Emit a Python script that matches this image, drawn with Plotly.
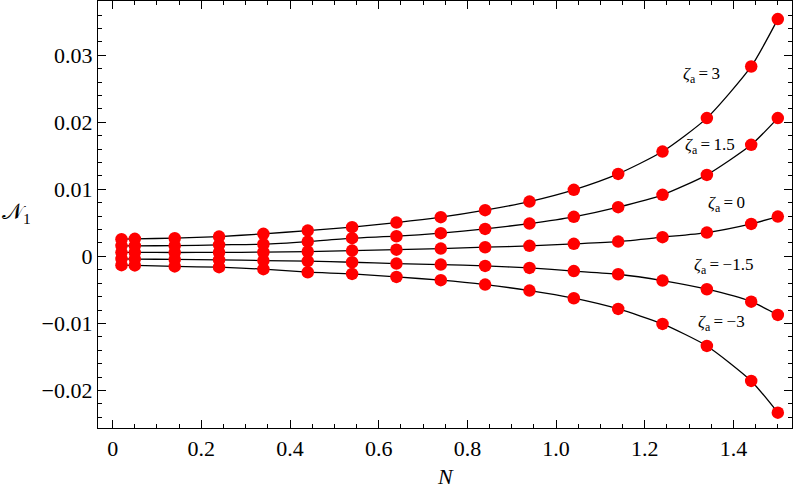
import plotly.graph_objects as go

# N values where the points sit
n_vals = [0.02, 0.05, 0.14, 0.24, 0.34, 0.44, 0.54, 0.64, 0.74, 0.84,
          0.94, 1.04, 1.14, 1.24, 1.34, 1.44, 1.50]

# N1 for each zeta_a
zeta_3 = [0.00257, 0.00262, 0.00272, 0.00296, 0.00336, 0.00385, 0.00436, 0.00504, 0.00585,
          0.00690, 0.00818, 0.00993, 0.01231, 0.01564, 0.02063, 0.02833, 0.03540]
zeta_15 = [0.00157, 0.00158, 0.00160, 0.00172, 0.00182, 0.00221, 0.00272, 0.00301, 0.00346,
           0.00410, 0.00490, 0.00590, 0.00734, 0.00918, 0.01216, 0.01664, 0.02063]
zeta_0 = [0.00060, 0.00060, 0.00058, 0.00060, 0.00063, 0.00072, 0.00087, 0.00101, 0.00116,
          0.00137, 0.00157, 0.00187, 0.00221, 0.00287, 0.00355, 0.00485, 0.00594]
zeta_m15 = [-0.00037, -0.00040, -0.00045, -0.00052, -0.00062, -0.00070, -0.00087, -0.00107, -0.00122,
            -0.00142, -0.00172, -0.00219, -0.00266, -0.00361, -0.00490, -0.00675, -0.00873]
zeta_m3 = [-0.00131, -0.00135, -0.00150, -0.00161, -0.00190, -0.00236, -0.00261, -0.00306, -0.00355,
           -0.00421, -0.00510, -0.00624, -0.00784, -0.01007, -0.01336, -0.01858, -0.02331]

series = [zeta_3, zeta_15, zeta_0, zeta_m15, zeta_m3]

# curve labels and where they sit
label_text = ["3", "1.5", "0", "\u22121.5", "\u22123"]
label_x = [1.329, 1.347, 1.385, 1.378, 1.374]
label_y = [0.0271, 0.0164, 0.0078, -0.0015, -0.0100]

x_ticks = [0, 0.2, 0.4, 0.6, 0.8, 1.0, 1.2, 1.4]
x_ticktext = ["0", "0.2", "0.4", "0.6", "0.8", "1.0", "1.2", "1.4"]
y_ticks = [-0.02, -0.01, 0, 0.01, 0.02, 0.03]
y_ticktext = ["\u22120.02", "\u22120.01", "0", "0.01", "0.02", "0.03"]

serif = "Liberation Serif"

W, H = 793, 492
ML, MR, MT, MB = 98, 1, 1, 64
plot_w = W - ML - MR
plot_h = H - MT - MB

fig = go.Figure()

# lines first so the dots sit on top
for ys in series:
    fig.add_trace(go.Scatter(x=n_vals, y=ys, mode="lines",
                             line=dict(color="black", width=1.3, shape="spline", smoothing=0.6),
                             hoverinfo="skip", showlegend=False))
for ys in series:
    fig.add_trace(go.Scatter(x=n_vals, y=ys, mode="markers",
                             marker=dict(color="#ff0000", size=12.5, line=dict(width=0)),
                             showlegend=False))

for t, lx, ly in zip(label_text, label_x, label_y):
    fig.add_annotation(x=lx, y=ly, xref="x", yref="y", showarrow=False,
                       xanchor="center", yanchor="middle",
                       text="<i>\u03b6</i><sub>a</sub>\u2009=\u2009" + t,
                       font=dict(family=serif, size=17, color="black"))

# axis titles, placed by pixel position in the page
fig.add_annotation(xref="paper", yref="paper", showarrow=False,
                   x=(445 - ML) / plot_w, y=-(477 - (H - MB)) / plot_h,
                   xanchor="center", yanchor="middle",
                   text="<i>N</i>", font=dict(family=serif, size=22, color="black"))
fig.add_annotation(xref="paper", yref="paper", showarrow=False,
                   x=(16 - ML) / plot_w, y=((H - MB) - 213) / plot_h,
                   xanchor="center", yanchor="middle",
                   text="\U0001d4a9<sub>1</sub>", font=dict(family=serif, size=22, color="black"))

axis_common = dict(showgrid=False, zeroline=False, showline=True, linecolor="black",
                   linewidth=1.2, mirror="ticks", ticks="inside", ticklen=8,
                   tickcolor="black", tickwidth=1,
                   tickfont=dict(family=serif, size=22, color="black"))

fig.update_xaxes(range=[-0.033, 1.532], tickvals=x_ticks, ticktext=x_ticktext,
                 minor=dict(dtick=0.05, tick0=0, ticks="inside", ticklen=4,
                            tickcolor="black"),
                 **axis_common)
fig.update_yaxes(range=[-0.0256, 0.0381], tickvals=y_ticks, ticktext=y_ticktext,
                 minor=dict(dtick=0.002, tick0=0, ticks="inside", ticklen=4,
                            tickcolor="black"),
                 **axis_common)

fig.update_layout(width=W, height=H,
                  margin=dict(l=ML, r=MR, t=MT, b=MB),
                  paper_bgcolor="white", plot_bgcolor="white",
                  font=dict(family=serif, color="black"))

# drop the browser's default body margin so the figure starts at the corner
fig.write_html("out.html", config={"displayModeBar": False},
               post_script="document.body.style.margin='0';document.body.style.overflow='hidden';")
